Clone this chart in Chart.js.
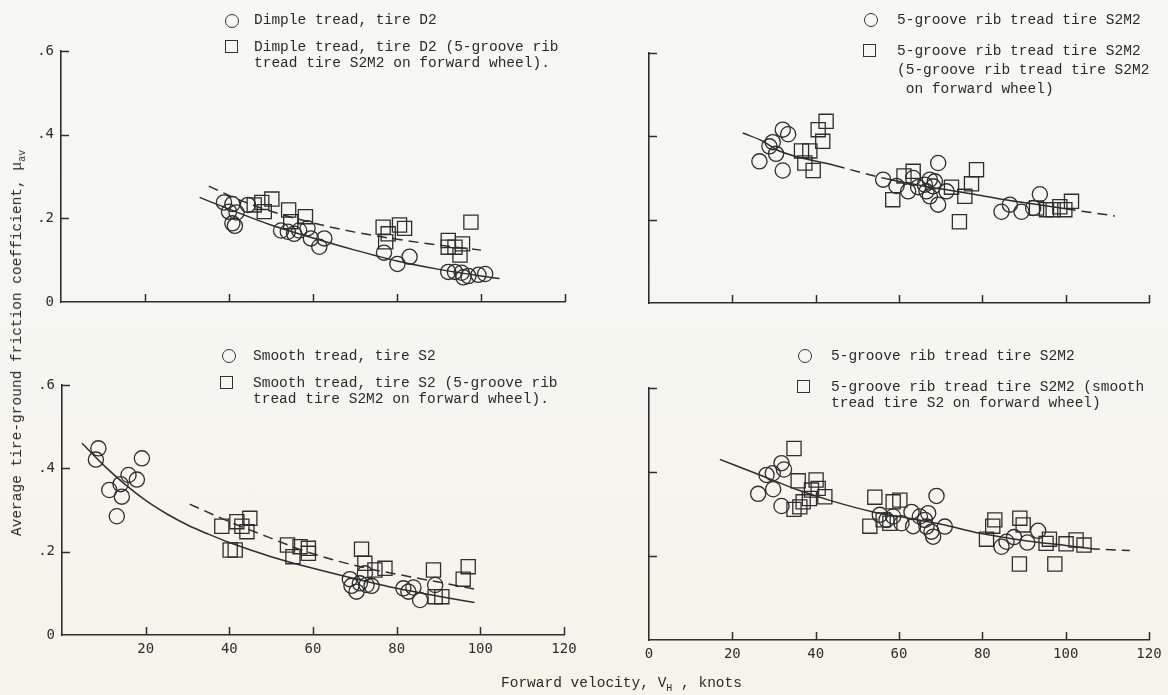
<!DOCTYPE html>
<html>
<head>
<meta charset="utf-8">
<title>Tire-ground friction coefficient vs forward velocity</title>
<script src="https://cdn.jsdelivr.net/npm/chart.js@4.4.1/dist/chart.umd.min.js"></script>
<style>
  html, body { margin: 0; padding: 0; }
  body {
    width: 1168px; height: 695px; overflow: hidden; position: relative;
    background: linear-gradient(#f7f7f5 0%, #f6f6f1 50%, #f5f4e9 100%);
    font-family: "Liberation Mono", "DejaVu Sans Mono", monospace;
    color: #2b2b2b;
  }
  canvas { position: absolute; left: 0; top: 0; }
  .txt { position: absolute; white-space: pre; font-size: 14.5px; line-height: 17px; }
  .circ { position: absolute; width: 12px; height: 12px; border: 1.3px solid #333; border-radius: 50%; }
  .sq { position: absolute; width: 11px; height: 11px; border: 1.3px solid #333; }
  sub { font-size: 10px; vertical-align: -4px; line-height: 0; }
  #ytitle { position: absolute; left: 17px; top: 343px; transform: translate(-50%, -50%) rotate(-90deg); white-space: pre; font-size: 14.5px; }
  #xtitle { position: absolute; left: 501px; top: 675px; white-space: pre; font-size: 14.5px; }
</style>
</head>
<body>
<canvas id="pDimple" width="1168" height="695"></canvas>
<canvas id="pRib" width="1168" height="695"></canvas>
<canvas id="pSmooth" width="1168" height="695"></canvas>
<canvas id="pRibSmoothFwd" width="1168" height="695"></canvas>

<!-- keys -->
<div class="circ" style="left:225px;top:14px"></div>
<div class="txt" style="left:254px;top:12px">Dimple tread, tire D2</div>
<div class="sq" style="left:225px;top:40px"></div>
<div class="txt" style="left:254px;top:38.5px;line-height:16.6px">Dimple tread, tire D2 (5-groove rib
tread tire S2M2 on forward wheel).</div>

<div class="circ" style="left:864px;top:13px"></div>
<div class="txt" style="left:897px;top:11.5px">5-groove rib tread tire S2M2</div>
<div class="sq" style="left:863px;top:44px"></div>
<div class="txt" style="left:897px;top:41.5px;line-height:19px">5-groove rib tread tire S2M2
(5-groove rib tread tire S2M2
 on forward wheel)</div>

<div class="circ" style="left:222px;top:349px"></div>
<div class="txt" style="left:253px;top:347.5px">Smooth tread, tire S2</div>
<div class="sq" style="left:220px;top:376px"></div>
<div class="txt" style="left:253px;top:374.5px;line-height:16.5px">Smooth tread, tire S2 (5-groove rib
tread tire S2M2 on forward wheel).</div>

<div class="circ" style="left:798px;top:349px"></div>
<div class="txt" style="left:831px;top:347.5px">5-groove rib tread tire S2M2</div>
<div class="sq" style="left:797px;top:380px"></div>
<div class="txt" style="left:831px;top:378.5px;line-height:16.5px">5-groove rib tread tire S2M2 (smooth
tread tire S2 on forward wheel)</div>

<div id="ytitle">Average tire-ground friction coefficient, μ<sub>av</sub></div>
<div id="xtitle">Forward velocity, V<sub>H</sub> , knots</div>

<script>
// ---- Dimple tread, tire D2 ----
const dimpleSpeed = [38.8, 40.8, 40.0, 41.8, 40.8, 41.4, 44.5, 52.4, 54.0, 55.5, 56.7, 58.7, 59.5, 61.5, 62.7, 76.9, 80.1, 83.0, 92.2, 93.8, 95.4, 95.8, 97.0, 99.4, 101.0];
const dimpleMu    = [0.238, 0.234, 0.216, 0.214, 0.188, 0.182, 0.232, 0.171, 0.168, 0.163, 0.171, 0.176, 0.152, 0.132, 0.152, 0.118, 0.091, 0.108, 0.072, 0.072, 0.070, 0.059, 0.062, 0.065, 0.067];
const dimpleRibFwdSpeed = [46.0, 47.8, 48.4, 50.2, 54.2, 54.7, 58.2, 76.7, 77.3, 77.9, 80.6, 81.8, 92.2, 92.2, 93.8, 95.0, 95.6, 97.6];
const dimpleRibFwdMu    = [0.232, 0.238, 0.216, 0.246, 0.220, 0.192, 0.204, 0.179, 0.144, 0.163, 0.184, 0.176, 0.147, 0.131, 0.131, 0.112, 0.139, 0.191];
const dimpleFitSpeed = [33, 40, 50, 60, 70, 80, 90, 100, 104.4];
const dimpleFitMu    = [0.250, 0.222, 0.184, 0.153, 0.124, 0.098, 0.078, 0.062, 0.056];
const dimpleRibFwdFitSpeed = [35.2, 42, 50, 60, 70, 80, 90, 100];
const dimpleRibFwdFitMu    = [0.277, 0.246, 0.217, 0.189, 0.167, 0.150, 0.136, 0.124];

// ---- 5-groove rib tread tire S2M2 ----
const ribSpeed = [26.5, 28.9, 29.7, 30.5, 32.1, 33.4, 32.1, 56.2, 59.4, 62.2, 63.4, 64.6, 66.2, 67.4, 68.2, 68.6, 69.4, 67.4, 69.4, 71.4, 66.6, 84.6, 86.6, 89.4, 92.2, 93.8];
const ribMu    = [0.340, 0.376, 0.386, 0.358, 0.416, 0.405, 0.318, 0.296, 0.281, 0.268, 0.300, 0.278, 0.284, 0.296, 0.280, 0.292, 0.336, 0.256, 0.236, 0.268, 0.268, 0.219, 0.236, 0.219, 0.228, 0.261];
const ribRibFwdSpeed = [36.6, 37.4, 38.6, 39.4, 40.6, 41.7, 42.5, 58.5, 61.2, 63.4, 72.6, 74.5, 75.8, 77.4, 78.6, 93.0, 95.4, 97.0, 98.6, 99.8, 101.4];
const ribRibFwdMu    = [0.365, 0.336, 0.365, 0.318, 0.416, 0.388, 0.436, 0.248, 0.305, 0.316, 0.278, 0.195, 0.256, 0.286, 0.320, 0.228, 0.224, 0.224, 0.231, 0.224, 0.244];
const ribFitSpeed = [22.5, 27.4, 31, 44.6, 57, 68, 78.6, 84.6, 92, 100, 111.8];
const ribFitMu    = [0.408, 0.388, 0.366, 0.330, 0.298, 0.277, 0.260, 0.249, 0.238, 0.226, 0.209];
const ribFitDashedFrom = [3, 9];   // segments starting at these points are dashed

// ---- Smooth tread, tire S2 ----
const smoothSpeed = [8.1, 8.7, 11.3, 13.1, 14.0, 14.3, 15.9, 17.9, 19.1, 68.8, 69.2, 70.4, 71.2, 72.4, 72.8, 74.0, 81.6, 82.8, 84.0, 85.6, 89.2];
const smoothMu    = [0.421, 0.448, 0.348, 0.285, 0.362, 0.332, 0.384, 0.373, 0.424, 0.134, 0.118, 0.104, 0.124, 0.148, 0.120, 0.118, 0.112, 0.104, 0.114, 0.084, 0.120];
const smoothRibFwdSpeed = [38.2, 40.2, 41.4, 41.8, 43.0, 44.2, 44.9, 53.9, 55.2, 56.9, 58.9, 58.9, 71.6, 72.4, 74.8, 77.2, 88.8, 89.2, 90.8, 95.9, 97.1];
const smoothRibFwdMu    = [0.261, 0.204, 0.204, 0.272, 0.261, 0.248, 0.280, 0.216, 0.188, 0.212, 0.208, 0.196, 0.206, 0.172, 0.156, 0.160, 0.156, 0.092, 0.092, 0.134, 0.164];
const smoothFitSpeed = [4.8, 10, 15, 20, 25, 30, 35, 40, 50, 60, 70, 80, 90, 98.6];
const smoothFitMu    = [0.460, 0.407, 0.362, 0.323, 0.291, 0.264, 0.242, 0.222, 0.188, 0.160, 0.135, 0.112, 0.093, 0.078];
const smoothRibFwdFitSpeed = [30.5, 40, 49, 57, 65, 73, 81, 90, 98.6];
const smoothRibFwdFitMu    = [0.314, 0.272, 0.236, 0.205, 0.180, 0.160, 0.144, 0.127, 0.110];

// ---- 5-groove rib tread tire S2M2, smooth S2 on forward wheel ----
const rib2Speed = [26.2, 28.2, 29.7, 29.8, 31.8, 32.4, 31.8, 55.4, 57.0, 58.6, 60.6, 63.0, 63.4, 65.0, 66.2, 67.0, 66.6, 67.8, 68.2, 71.0, 69.0, 84.6, 85.8, 87.6, 90.8, 93.4];
const rib2Mu    = [0.348, 0.393, 0.397, 0.359, 0.421, 0.406, 0.319, 0.298, 0.286, 0.294, 0.278, 0.305, 0.271, 0.294, 0.286, 0.302, 0.270, 0.258, 0.246, 0.270, 0.343, 0.222, 0.234, 0.245, 0.232, 0.260];
const rib2SmoothFwdSpeed = [34.8, 34.8, 35.8, 36.2, 37.0, 38.5, 39.0, 40.1, 40.6, 42.2, 53.0, 54.2, 56.2, 57.8, 58.6, 60.2, 81.0, 82.5, 83.0, 88.9, 89.0, 89.8, 95.3, 96.1, 97.4, 100.1, 102.5, 104.4];
const rib2SmoothFwdMu    = [0.456, 0.311, 0.379, 0.317, 0.329, 0.337, 0.357, 0.381, 0.361, 0.341, 0.271, 0.340, 0.286, 0.278, 0.329, 0.333, 0.240, 0.271, 0.286, 0.181, 0.290, 0.274, 0.230, 0.240, 0.181, 0.229, 0.238, 0.226];
const rib2FitSpeed = [17, 27.4, 35.8, 44.2, 53.8, 64, 72.2, 79.4, 90, 100, 105.8, 115.4];
const rib2FitMu    = [0.430, 0.390, 0.357, 0.330, 0.305, 0.287, 0.271, 0.254, 0.237, 0.225, 0.218, 0.213];
const rib2FitDashedFrom = [10];

// ---- axes ----
const speedTicks = [0, 20, 40, 60, 80, 100, 120];
const muTicks = [0, 0.2, 0.4, 0.6];

const INK = '#2e2e2e';
const PAGE_W = 1168, PAGE_H = 695;
const Y_AXIS_W = 40, X_AXIS_H = 30;
const DASH = [10, 6];
const tickFont = { family: 'DejaVu Sans Mono', size: 14 };

const pairs = (xs, ys) => xs.map((x, i) => ({ x, y: ys[i] }));

// tick marks point into the plot, as on the drawing sheet
const inwardTicks = {
  id: 'inwardTicks',
  afterDraw(chart) {
    const { ctx, scales: { x, y } } = chart;
    ctx.save();
    ctx.strokeStyle = INK;
    ctx.lineWidth = 1.5;
    ctx.beginPath();
    speedTicks.forEach(v => {
      if (v === 0) return;
      const px = Math.round(x.getPixelForValue(v)) + 0.5;
      ctx.moveTo(px, y.bottom);
      ctx.lineTo(px, y.bottom - 8);
    });
    muTicks.forEach(v => {
      if (v === 0) return;
      const py = Math.round(y.getPixelForValue(v)) + 0.5;
      ctx.moveTo(x.left, py);
      ctx.lineTo(x.left + 8, py);
    });
    ctx.stroke();
    ctx.restore();
  }
};

function markers(xs, ys, style) {
  return {
    data: pairs(xs, ys),
    pointStyle: style,
    pointRadius: style === 'rect' ? 10 : 7.6,
    pointBorderWidth: 1.3,
    pointBorderColor: INK,
    pointBackgroundColor: 'rgba(0,0,0,0)',
    showLine: false
  };
}

function fitLine(xs, ys, dashed, dashedFrom) {
  const ds = {
    data: pairs(xs, ys),
    showLine: true,
    pointRadius: 0,
    borderColor: INK,
    borderWidth: 1.5,
    fill: false,
    cubicInterpolationMode: 'monotone',
    borderDash: dashed ? DASH : []
  };
  if (dashedFrom) {
    ds.segment = { borderDash: c => dashedFrom.includes(c.p0DataIndex) ? DASH : [] };
  }
  return ds;
}

function panel(id, area, opts, datasets) {
  new Chart(document.getElementById(id), {
    type: 'scatter',
    data: { datasets },
    options: {
      responsive: false,
      animation: false,
      devicePixelRatio: 1,
      events: [],
      layout: {
        padding: {
          left: area.left - Y_AXIS_W,
          right: PAGE_W - area.right,
          top: area.top,
          bottom: PAGE_H - area.bottom - X_AXIS_H
        }
      },
      plugins: { legend: { display: false }, tooltip: { enabled: false } },
      scales: {
        x: {
          type: 'linear', min: 0, max: 120,
          afterFit: s => { s.height = X_AXIS_H; },
          afterBuildTicks: s => { s.ticks = speedTicks.map(value => ({ value })); },
          ticks: {
            display: opts.xLabels, padding: 6, color: INK, font: tickFont,
            maxRotation: 0, autoSkip: false,
            callback: v => (opts.hideXZero && v === 0) ? '' : String(v)
          },
          grid: { display: true, drawOnChartArea: false, drawTicks: false },
          border: { display: true, color: INK, width: 1.6 }
        },
        y: {
          type: 'linear', min: 0, max: 0.6,
          afterFit: s => { s.width = Y_AXIS_W; },
          afterBuildTicks: s => { s.ticks = muTicks.map(value => ({ value })); },
          ticks: {
            display: opts.yLabels, padding: 7, color: INK, font: tickFont,
            callback: v => v === 0 ? '0' : '.' + Math.round(v * 10)
          },
          grid: { display: true, drawOnChartArea: false, drawTicks: false },
          border: { display: true, color: INK, width: 1.6 }
        }
      }
    },
    plugins: [inwardTicks]
  });
}

panel('pDimple', { left: 61, right: 565, top: 51, bottom: 302 }, { xLabels: false, yLabels: true }, [
  markers(dimpleSpeed, dimpleMu, 'circle'),
  markers(dimpleRibFwdSpeed, dimpleRibFwdMu, 'rect'),
  fitLine(dimpleFitSpeed, dimpleFitMu, false),
  fitLine(dimpleRibFwdFitSpeed, dimpleRibFwdFitMu, true)
]);

panel('pRib', { left: 649, right: 1149, top: 53, bottom: 303 }, { xLabels: false, yLabels: false }, [
  markers(ribSpeed, ribMu, 'circle'),
  markers(ribRibFwdSpeed, ribRibFwdMu, 'rect'),
  fitLine(ribFitSpeed, ribFitMu, false, ribFitDashedFrom)
]);

panel('pSmooth', { left: 62, right: 564, top: 385, bottom: 635 }, { xLabels: true, yLabels: true, hideXZero: true }, [
  markers(smoothSpeed, smoothMu, 'circle'),
  markers(smoothRibFwdSpeed, smoothRibFwdMu, 'rect'),
  fitLine(smoothFitSpeed, smoothFitMu, false),
  fitLine(smoothRibFwdFitSpeed, smoothRibFwdFitMu, true)
]);

panel('pRibSmoothFwd', { left: 649, right: 1149, top: 388, bottom: 640 }, { xLabels: true, yLabels: false }, [
  markers(rib2Speed, rib2Mu, 'circle'),
  markers(rib2SmoothFwdSpeed, rib2SmoothFwdMu, 'rect'),
  fitLine(rib2FitSpeed, rib2FitMu, false, rib2FitDashedFrom)
]);
</script>
</body>
</html>
